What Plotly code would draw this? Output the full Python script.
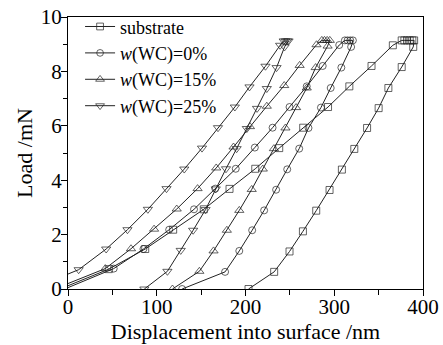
import plotly.graph_objects as go

# Substrate
sub_load_x = [0, 46, 87, 118.5, 153, 182, 211, 238, 265, 293, 317, 342, 366]
sub_load_y = [0.12, 0.73, 1.47, 2.18, 2.93, 3.68, 4.42, 5.18, 5.93, 6.69, 7.45, 8.2, 8.96]
sub_hold_x = [376, 379, 382, 385, 388, 390]
sub_hold_y = [9.14, 9.14, 9.14, 9.14, 9.14, 9.14]
sub_unl_x = [389, 376, 361, 350, 337, 322.6, 308.6, 294.7, 279.7, 264.7, 249.6, 232.3, 203.4]
sub_unl_y = [8.9, 8.16, 7.39, 6.65, 5.92, 5.15, 4.39, 3.64, 2.88, 2.12, 1.38, 0.63, 0.0]

# w(WC)=0%
wc0_load_x = [0, 51.5, 85, 114, 142, 166, 189, 210.5, 230.5, 249.6, 269, 287, 305.6]
wc0_load_y = [0.05, 0.75, 1.47, 2.18, 2.93, 3.69, 4.42, 5.2, 5.93, 6.69, 7.45, 8.2, 8.97]
wc0_hold_x = [312, 315, 318, 321]
wc0_hold_y = [9.14, 9.14, 9.14, 9.14]
wc0_unl_x = [319, 308, 296, 285, 271, 260.5, 247, 234.5, 221, 207.5, 193, 177, 128.6]
wc0_unl_y = [8.9, 8.14, 7.39, 6.67, 5.92, 5.16, 4.4, 3.65, 2.89, 2.16, 1.4, 0.63, 0.0]

# w(WC)=15%
wc15_load_x = [0, 42, 71, 97, 122.5, 146, 167, 186.5, 205, 224, 243.6, 261, 280]
wc15_load_y = [0.2, 0.75, 1.48, 2.2, 2.94, 3.69, 4.45, 5.22, 5.97, 6.72, 7.48, 8.22, 8.98]
wc15_hold_x = [286, 289, 292, 295]
wc15_hold_y = [9.14, 9.14, 9.14, 9.14]
wc15_unl_x = [292.5, 279, 269, 257, 245, 232, 219.5, 207, 193, 179, 164, 148, 117.7]
wc15_unl_y = [8.93, 8.14, 7.39, 6.67, 5.92, 5.16, 4.41, 3.66, 2.89, 2.16, 1.4, 0.65, 0.0]

# w(WC)=25%
wc25_load_x = [0, 12, 43, 67, 90, 111, 131, 151, 169, 188, 204.5, 222.5, 239]
wc25_load_y = [0.55, 0.71, 1.47, 2.18, 2.93, 3.69, 4.41, 5.18, 5.93, 6.69, 7.43, 8.19, 8.96]
wc25_hold_x = [243, 245, 247, 248.5]
wc25_hold_y = [9.12, 9.12, 9.12, 9.12]
wc25_unl_x = [244, 235, 224, 213, 201.5, 190, 178, 166.5, 155, 141, 127, 112, 86]
wc25_unl_y = [8.9, 8.14, 7.37, 6.64, 5.9, 5.16, 4.42, 3.68, 2.92, 2.16, 1.42, 0.65, 0.0]

names = ["substrate", "<i>w</i>(WC)=0%", "<i>w</i>(WC)=15%", "<i>w</i>(WC)=25%"]
x_ticks = [0, 100, 200, 300, 400]
y_ticks = [0, 2, 4, 6, 8, 10]

series = [
    (sub_load_x + sub_hold_x + sub_unl_x, sub_load_y + sub_hold_y + sub_unl_y, "square-open", 7),
    (wc0_load_x + wc0_hold_x + wc0_unl_x, wc0_load_y + wc0_hold_y + wc0_unl_y, "circle-open", 7),
    (wc15_load_x + wc15_hold_x + wc15_unl_x, wc15_load_y + wc15_hold_y + wc15_unl_y, "triangle-up-open", 8),
    (wc25_load_x + wc25_hold_x + wc25_unl_x, wc25_load_y + wc25_hold_y + wc25_unl_y, "triangle-down-open", 8),
]

fig = go.Figure()
for (xs, ys, sym, sz), name in zip(series, names):
    sizes = [0] + [sz] * (len(xs) - 1)
    fig.add_trace(go.Scatter(
        x=xs, y=ys, name=name, mode="lines+markers",
        line=dict(color="#222222", width=1),
        marker=dict(symbol=sym, size=sizes, color="#222222", line=dict(width=1, color="#222222")),
    ))

font_family = "Liberation Serif, Times New Roman, serif"
fig.update_layout(
    width=443, height=345,
    margin=dict(l=68, r=20, t=17, b=56, autoexpand=False),
    paper_bgcolor="white", plot_bgcolor="white",
    font=dict(family=font_family, color="black", size=21),
    showlegend=True,
    legend=dict(
        x=0.034, y=1.032, xanchor="left", yanchor="top",
        bgcolor="rgba(0,0,0,0)", borderwidth=0,
        font=dict(family=font_family, size=18, color="black"),
        itemwidth=30, tracegroupgap=0,
    ),
)
fig.update_xaxes(
    range=[0, 400], tickvals=x_ticks, ticktext=[str(v) for v in x_ticks],
    showgrid=False, zeroline=False, showline=True, linecolor="black", linewidth=1.2,
    mirror=True, ticks="outside", ticklen=6, tickwidth=1, tickcolor="black",
    ticklabelstandoff=-7,
    minor=dict(dtick=50, ticks="outside", ticklen=5, tickwidth=1, tickcolor="black", showgrid=False),
    tickfont=dict(family=font_family, size=21, color="black"),
    title=dict(text="Displacement into surface /nm", font=dict(family=font_family, size=22, color="black"), standoff=2),
    automargin=False,
)
fig.update_yaxes(
    range=[0, 10], tickvals=y_ticks, ticktext=[str(v) for v in y_ticks],
    showgrid=False, zeroline=False, showline=True, linecolor="black", linewidth=1.2,
    mirror=True, ticks="outside", ticklen=6, tickwidth=1, tickcolor="black",
    ticklabelstandoff=-5,
    minor=dict(dtick=1, ticks="outside", ticklen=4, tickwidth=1, tickcolor="black", showgrid=False),
    tickfont=dict(family=font_family, size=21, color="black"),
    title=dict(text="Load /mN", font=dict(family=font_family, size=22, color="black"), standoff=2),
    automargin=False,
)

fig.write_html("out.html", config={"displayModeBar": False},
               post_script="document.body.style.margin='0';document.body.style.padding='0';")
